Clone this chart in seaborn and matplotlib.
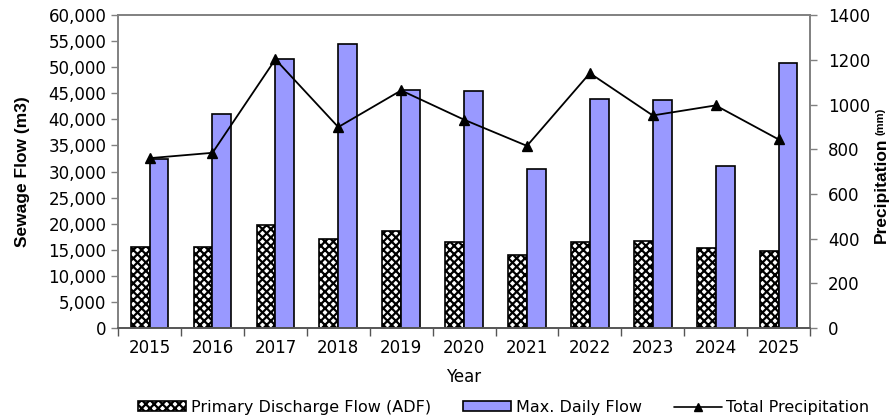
import numpy as np
import pandas as pd
import matplotlib
matplotlib.use("Agg")
import matplotlib.pyplot as plt
import seaborn as sns
from matplotlib.patches import Patch
from matplotlib.lines import Line2D
from matplotlib.ticker import FuncFormatter, FixedLocator

# ---- data ----
years = ["2015", "2016", "2017", "2018", "2019", "2020",
         "2021", "2022", "2023", "2024", "2025"]
primary_adf = [15470, 15470, 19800, 17060, 18530, 16420,
               14000, 16420, 16620, 15400, 14820]
max_daily = [32400, 41070, 51600, 54380, 45560, 45490,
             30480, 43900, 43760, 31050, 50850]
precip = [760, 784, 1202, 899, 1063, 932, 815, 1140, 951, 996, 844]

SERIES = ["Primary Discharge Flow (ADF)", "Max. Daily Flow"]
PURPLE = "#9999ff"

df = pd.DataFrame({
    "Year": years * 2,
    "Flow": primary_adf + max_daily,
    "Series": [SERIES[0]] * len(years) + [SERIES[1]] * len(years),
})

sns.set_style("white")
plt.rcParams["font.family"] = ["DejaVu Sans"]
plt.rcParams["hatch.linewidth"] = 1.6
plt.rcParams["text.color"] = "black"
plt.rcParams["xtick.color"] = "black"
plt.rcParams["ytick.color"] = "black"
plt.rcParams["axes.labelcolor"] = "black"

fig = plt.figure(figsize=(8.95, 4.18), dpi=100)
ax = fig.add_axes([0.132, 0.215, 0.773, 0.749])

sns.barplot(data=df, x="Year", y="Flow", hue="Series", ax=ax,
            palette=["white", PURPLE], width=0.6, edgecolor="black",
            linewidth=1.2, legend=False, saturation=1)

# checkered look for the ADF bars
n = len(years)
for p in ax.patches[:n]:
    p.set_hatch("xxxx")

ax.set_ylim(0, 60000)
ax.set_xlim(-0.5, n - 0.5)
ax.set_yticks(np.arange(0, 60001, 5000))
ax.yaxis.set_major_formatter(FuncFormatter(lambda v, _: f"{int(v):,}"))
ax.set_ylabel("Sewage Flow (m3)", fontsize=12.5, fontweight="bold",
              family="Liberation Sans", labelpad=13)
ax.set_xlabel("Year", fontsize=12, labelpad=8)

# x ticks: labels at centres, tick marks at category boundaries
ax.tick_params(axis="x", which="major", length=0, labelsize=12, pad=8)
ax.xaxis.set_minor_locator(FixedLocator(np.arange(-0.5, n, 1.0)))
ax.tick_params(axis="x", which="minor", length=6, width=1, color="#555555",
               direction="out", bottom=True)
ax.tick_params(axis="y", length=5, width=1, color="#808080", labelsize=12,
               left=True, direction="out")

ax2 = ax.twinx()
sns.pointplot(x=years, y=precip, ax=ax2, color="black", markers="^",
              markersize=7, linewidth=1.3, errorbar=None)
ax2.set_ylim(0, 1400)
ax2.set_xlim(-0.5, n - 0.5)
ax2.set_yticks(np.arange(0, 1401, 200))
ax2.set_ylabel("")
ax2.tick_params(axis="y", length=5, width=1, color="#808080", labelsize=12,
                right=True, direction="out", pad=8)

for a in (ax, ax2):
    for side in ["left", "right", "top"]:
        a.spines[side].set_color("#808080")
        a.spines[side].set_linewidth(1.2)
    a.spines["bottom"].set_color("#555555")
    a.spines["bottom"].set_linewidth(1.2)

fig.text(0.985, 0.545, "Precipitation", rotation=90, ha="center", va="center",
         fontsize=12.5, fontweight="bold", family="Liberation Sans")
fig.text(0.984, 0.71, "(mm)", rotation=90, ha="center", va="center",
         fontsize=8, fontweight="bold", family="Liberation Sans")

handles = [
    Patch(facecolor="white", edgecolor="black", hatch="xxxx", linewidth=1.2),
    Patch(facecolor=PURPLE, edgecolor="black", linewidth=1.2),
    Line2D([], [], color="black", marker="^", markersize=6, linewidth=1.2),
]
fig.legend(handles, SERIES + ["Total Precipitation"], loc="center",
           bbox_to_anchor=(0.563, 0.025), ncol=3, frameon=False, fontsize=11.5,
           handlelength=3.0, handleheight=0.6, columnspacing=2.0,
           handletextpad=0.3)

fig.savefig("out.png", dpi=100)
